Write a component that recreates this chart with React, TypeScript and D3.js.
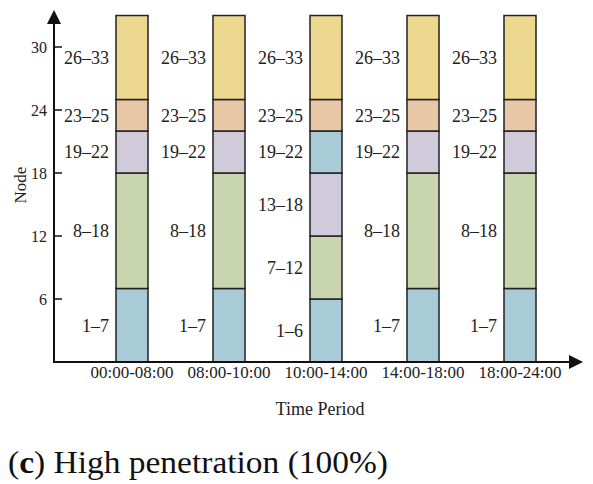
import React from 'react';
import * as d3 from 'd3';

const width = 593;
const height = 484;
const margin = { top: 15.5, left: 54, bottom: 362 };

// time periods (x categories)
const periods = ['00:00-08:00', '08:00-10:00', '10:00-14:00', '14:00-18:00', '18:00-24:00'];

// node partitions: boundaries, labels and colour keys
const normalBounds = [0, 7, 18, 22, 25, 33];
const normalLabels = ['1–7', '8–18', '19–22', '23–25', '26–33'];
const normalColors = ['blue', 'green', 'purple', 'orange', 'yellow'];

const noonBounds = [0, 6, 12, 18, 22, 25, 33];
const noonLabels = ['1–6', '7–12', '13–18', '19–22', '23–25', '26–33'];
const noonColors = ['blue', 'green', 'purple', 'blue', 'orange', 'yellow'];

const yTicks = [6, 12, 18, 24, 30];

const palette: Record<string, string> = {
  blue: '#a9cbd7',
  green: '#c9d5ae',
  purple: '#d0cadb',
  orange: '#e8c7a7',
  yellow: '#ecd88f',
};

const serif = '"Liberation Serif", "Times New Roman", serif';

const xScale = d3.scalePoint<string>().domain(periods).range([132, 520]);
const yScale = d3.scaleLinear().domain([0, 33]).range([margin.bottom, margin.top]);
const barW = 32;

function partition(i: number) {
  const bounds = i === 2 ? noonBounds : normalBounds;
  const labels = i === 2 ? noonLabels : normalLabels;
  const colors = i === 2 ? noonColors : normalColors;
  return labels.map((label, k) => ({ label, lo: bounds[k], hi: bounds[k + 1], color: palette[colors[k]] }));
}

export default function App() {
  const y0 = yScale(0);
  return (
    <svg width={width} height={height} style={{ position: 'absolute', left: 0, top: 0 }}>
      <rect width={width} height={height} fill="#fff" />
      {periods.map((p, i) => {
        const cx = xScale(p) as number;
        return (
          <g key={p}>
            {partition(i).map(s => (
              <g key={s.label + s.lo}>
                <rect x={cx - barW / 2} y={yScale(s.hi)} width={barW} height={yScale(s.lo) - yScale(s.hi)}
                  fill={s.color} stroke="#222" strokeWidth={1.5} />
                <text x={cx - barW / 2 - 7} y={yScale((s.lo + s.hi) / 2)} dy="0.35em" textAnchor="end"
                  fontFamily={serif} fontSize={18} fill="#222">{s.label}</text>
              </g>
            ))}
            <text x={cx} y={378} textAnchor="middle" fontFamily={serif} fontSize={17} fill="#222">{p}</text>
          </g>
        );
      })}

      {/* axes */}
      <line x1={margin.left} x2={margin.left} y1={y0 + 1} y2={22} stroke="#111" strokeWidth={2} />
      <path d={`M${margin.left},10 L${margin.left - 7},24 L${margin.left + 7},24 Z`} fill="#111" />
      <line x1={margin.left - 1} x2={571} y1={y0} y2={y0} stroke="#111" strokeWidth={2} />
      <path d={`M583,${y0} L569,${y0 - 7} L569,${y0 + 7} Z`} fill="#111" />
      {yTicks.map(t => (
        <g key={t}>
          <line x1={margin.left} x2={margin.left + 8} y1={yScale(t)} y2={yScale(t)} stroke="#111" strokeWidth={1.5} />
          <text x={47} y={yScale(t)} dy="0.35em" textAnchor="end" fontFamily={serif} fontSize={16} fill="#222">{t}</text>
        </g>
      ))}

      <text transform="translate(26,185) rotate(-90)" textAnchor="middle" fontFamily={serif} fontSize={17} fill="#222">Node</text>
      <text x={320} y={415} textAnchor="middle" fontFamily={serif} fontSize={18} fill="#222">Time Period</text>

      <text x={8} y={473} fontFamily={serif} fontSize={31} fill="#111" textLength={380} lengthAdjust="spacingAndGlyphs">
        (<tspan fontWeight="bold">c</tspan>) High penetration (100%)
      </text>
    </svg>
  );
}
